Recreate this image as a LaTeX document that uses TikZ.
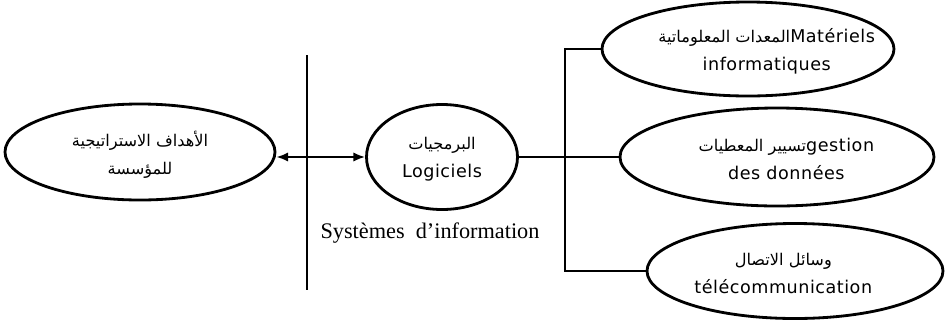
\documentclass[tikz,border=0pt]{standalone}
\usepackage{fontspec}
\setmainfont{DejaVu Sans}[LetterSpace=3]
\newfontfamily\arabicfont[Script=Arabic, Scale=0.92]{DejaVu Sans}
\newfontfamily\seriffont{Liberation Serif}
\TeXXeTstate=1
\usetikzlibrary{arrows, arrows.meta, calc, shapes.geometric}

\begin{document}
\begin{tikzpicture}[x=0.03cm, y=-0.03cm,
	            every ellipse node/.style={
	            draw,
	            line width=2.4pt,
	            inner sep=0pt
	            },
	            every label/.style={
	            align = center,
	            font=\fontsize{15}{24}\selectfont
	            },
	            >={Latex[length=10pt, width=8pt]},
	            every path/.style={
                    line width=1.8pt
                }]
	    \useasboundingbox (0,0) rectangle (948,324);

	        \node[ellipse, minimum width=8.1cm, minimum height=2.88cm,
	              label={[yshift=-2pt]center:{\arabicfont\beginR الأهداف الاستراتيجية\endR}\\ {\arabicfont\beginR للمؤسسة\endR}}] (goals) at (140,152) {};
	        \node[ellipse, minimum width=4.53cm, minimum height=3.15cm,
	              label={[yshift=-2pt]center:{\arabicfont\beginR البرمجيات\endR}\\ Logiciels}] (soft) at (442,157) {};
	        \node[ellipse, minimum width=8.76cm, minimum height=2.82cm,
	              label={[xshift=16pt, yshift=-2pt]center:{\arabicfont\beginR المعدات المعلوماتية\endR}Matériels\\ informatiques}] (hard) at (748,49) {};
	        \node[ellipse, minimum width=9.42cm, minimum height=2.94cm,
	              label={[xshift=8pt, yshift=-2pt]center:{\arabicfont\beginR تسيير المعطيات\endR}gestion\\ des données}] (data) at (777,157) {};
	        \node[ellipse, minimum width=8.88cm, minimum height=2.85cm,
	              label={[xshift=-10pt, yshift=-2pt]center:{\arabicfont\beginR وسائل الاتصال\endR}\\ télécommunication}] (telecom) at (795,271) {};

	        \node[font=\seriffont\fontsize{19}{21}\selectfont] (si) at (430,233) {Systèmes~~d’information};

	        \coordinate (bartop) at (307,55);
	        \coordinate (barbot) at (307,290);
	        \coordinate (bus) at (565,157);

	        \draw (bartop) -- (barbot);
	        \draw[<->] (goals.east |- soft.west) -- (soft.west);

	        \draw (soft) -- (data);
	        \draw (hard.west) -| (bus) |- (telecom.west);

	    \end{tikzpicture}
\end{document}
